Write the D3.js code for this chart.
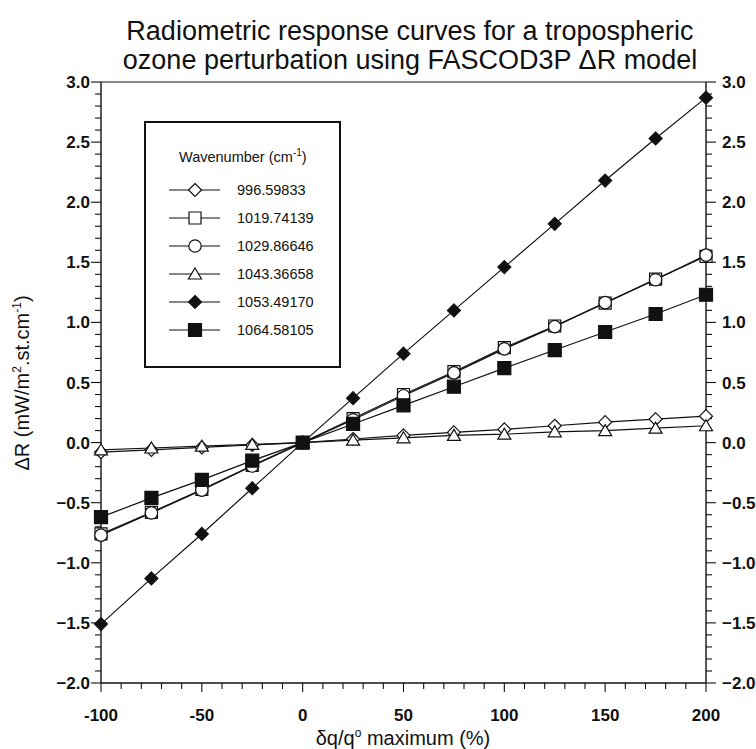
<!DOCTYPE html>
<html>
<head>
<meta charset="utf-8">
<script src="https://cdn.jsdelivr.net/npm/d3@7"></script>
<style>
  body { margin: 0; background: #fff; }
  svg { font-family: "Liberation Sans", Arial, sans-serif; }
</style>
</head>
<body>
<div id="chart"></div>
<script>
// perturbation (% of max) at which each curve was evaluated
const perturbation = [-100, -75, -50, -25, 0, 25, 50, 75, 100, 125, 150, 175, 200];

const wn996 = [-0.08, -0.06, -0.04, -0.02, 0, 0.03, 0.06, 0.085, 0.11, 0.14, 0.17, 0.195, 0.22];
const wn1019 = [-0.76, -0.58, -0.39, -0.19, 0, 0.2, 0.4, 0.59, 0.79, 0.97, 1.16, 1.36, 1.55];
const wn1029 = [-0.77, -0.585, -0.395, -0.195, 0, 0.19, 0.39, 0.58, 0.78, 0.965, 1.165, 1.355, 1.56];
const wn1043 = [-0.06, -0.045, -0.03, -0.015, 0, 0.02, 0.04, 0.06, 0.07, 0.09, 0.1, 0.12, 0.14];
const wn1053 = [-1.51, -1.13, -0.76, -0.38, 0, 0.37, 0.74, 1.1, 1.46, 1.82, 2.18, 2.53, 2.87];
const wn1064 = [-0.62, -0.46, -0.31, -0.15, 0, 0.155, 0.31, 0.465, 0.62, 0.77, 0.92, 1.07, 1.23];

const seriesNames = ["996.59833", "1019.74139", "1029.86646", "1043.36658", "1053.49170", "1064.58105"];
const seriesValues = [wn996, wn1019, wn1029, wn1043, wn1053, wn1064];
const seriesMarker = ["diamond", "square", "circle", "triangle", "diamond-filled", "square-filled"];

const xTicks = [-100, -50, 0, 50, 100, 150, 200];
const yTicks = [-2.0, -1.5, -1.0, -0.5, 0.0, 0.5, 1.0, 1.5, 2.0, 2.5, 3.0];

const width = 756, height = 749;
const margin = { top: 82, right: 50, bottom: 66, left: 101 };

const svg = d3.select("#chart")
  .append("svg")
  .attr("width", width)
  .attr("height", height);

const x = d3.scaleLinear().domain([-100, 200]).range([margin.left, width - margin.right]);
const y = d3.scaleLinear().domain([-2, 3]).range([height - margin.bottom, margin.top]);

// marker shapes
function markerPath(type) {
  if (type.startsWith("diamond")) return "M0,-6.5L6.5,0L0,6.5L-6.5,0Z";
  if (type.startsWith("square")) return type.endsWith("filled") ? "M-6.5,-6.5H6.5V6.5H-6.5Z" : "M-6,-6H6V6H-6Z";
  if (type === "triangle") return "M0,-6L6.5,5H-6.5Z";
  return d3.symbol().type(d3.symbolCircle).size(Math.PI * 6.2 * 6.2)();
}
function drawMarker(g, type) {
  const filled = type.endsWith("filled");
  g.append("path")
    .attr("d", markerPath(type))
    .attr("fill", filled ? "#111" : "#fff")
    .attr("stroke", "#111")
    .attr("stroke-width", 1.2);
}

// axes frame
const minorX = d3.range(-100, 201, 10);
const minorY = d3.range(-20, 31).map(d => d / 10);

const axes = svg.append("g").attr("stroke", "#111").attr("fill", "none");
axes.append("line")
  .attr("x1", x(-100)).attr("x2", x(200)).attr("y1", y(3)).attr("y2", y(3))
  .attr("stroke-width", 1.2);
axes.append("line")
  .attr("x1", x(-100)).attr("x2", x(200)).attr("y1", y(-2)).attr("y2", y(-2))
  .attr("stroke-width", 1.4);
axes.append("line")
  .attr("x1", x(-100)).attr("x2", x(-100)).attr("y1", y(-2)).attr("y2", y(3))
  .attr("stroke-width", 1.4);
axes.append("line")
  .attr("x1", x(200)).attr("x2", x(200)).attr("y1", y(-2)).attr("y2", y(3))
  .attr("stroke-width", 1.4);

const isMajorY = v => Math.abs(v * 2 - Math.round(v * 2)) < 1e-6;
const isMajorX = v => v % 50 === 0;

axes.selectAll(".ty").data(minorY).join("line")
  .attr("x1", x(-100)).attr("x2", d => x(-100) - (isMajorY(d) ? 10 : 6))
  .attr("y1", d => y(d)).attr("y2", d => y(d)).attr("stroke-width", 1.1);
axes.selectAll(".tyr").data(minorY).join("line")
  .attr("x1", x(200)).attr("x2", d => x(200) + (isMajorY(d) ? 10 : 6))
  .attr("y1", d => y(d)).attr("y2", d => y(d)).attr("stroke-width", 1.1);
axes.selectAll(".tx").data(minorX).join("line")
  .attr("x1", d => x(d)).attr("x2", d => x(d))
  .attr("y1", y(-2)).attr("y2", d => y(-2) + (isMajorX(d) ? 9 : 6)).attr("stroke-width", 1.1);

const fmt = d3.format(".1f");
const tickText = svg.append("g")
  .attr("font-size", 17).attr("font-weight", "bold").attr("fill", "#111");
tickText.selectAll(".ly").data(yTicks).join("text")
  .attr("x", x(-100) - 11).attr("y", d => y(d) + 6)
  .attr("text-anchor", "end").text(d => fmt(d));
tickText.selectAll(".lyr").data(yTicks).join("text")
  .attr("x", x(200) + 16).attr("y", d => y(d) + 6)
  .attr("text-anchor", "start").text(d => fmt(d));
tickText.selectAll(".lx").data(xTicks).join("text")
  .attr("x", d => x(d)).attr("y", y(-2) + 38)
  .attr("text-anchor", "middle").text(d => d);

// curves
const line = d3.line().x((d, i) => x(perturbation[i])).y(d => y(d));
svg.append("g").selectAll("path").data(seriesValues).join("path")
  .attr("d", line)
  .attr("fill", "none")
  .attr("stroke", "#111")
  .attr("stroke-width", 1.2);

seriesValues.forEach((vals, s) => {
  const g = svg.append("g");
  vals.forEach((v, i) => {
    const m = g.append("g").attr("transform", `translate(${x(perturbation[i])},${y(v)})`);
    drawMarker(m, seriesMarker[s]);
  });
});

// legend
const legend = svg.append("g");
legend.append("rect")
  .attr("x", 145).attr("y", 122).attr("width", 195).attr("height", 245)
  .attr("fill", "#fff").attr("stroke", "#111").attr("stroke-width", 2);
const lt = legend.append("text").attr("x", 179).attr("y", 162)
  .attr("font-size", 14.5).attr("fill", "#111");
lt.append("tspan").text("Wavenumber (cm");
lt.append("tspan").attr("font-size", 10).attr("dy", -6).text("-1");
lt.append("tspan").attr("dy", 6).text(")");

seriesNames.forEach((name, i) => {
  const row = legend.append("g").attr("transform", `translate(0,${190 + i * 28})`);
  row.append("line").attr("x1", 169).attr("x2", 220)
    .attr("stroke", "#111").attr("stroke-width", 1.2);
  const m = row.append("g").attr("transform", "translate(195,0)");
  drawMarker(m, seriesMarker[i]);
  row.append("text").attr("x", 237).attr("y", 5)
    .attr("font-size", 14.5).attr("fill", "#111").text(name);
});

// titles
const title = svg.append("g").attr("font-size", 27).attr("fill", "#111")
  .attr("text-anchor", "middle");
title.append("text").attr("x", 410).attr("y", 40)
  .text("Radiometric response curves for a tropospheric");
title.append("text").attr("x", 410).attr("y", 69)
  .text("ozone perturbation using FASCOD3P \u0394R model");

const xl = svg.append("text").attr("x", 403).attr("y", 745)
  .attr("text-anchor", "middle").attr("font-size", 20).attr("fill", "#111");
xl.append("tspan").text("\u03b4q/q");
xl.append("tspan").attr("font-size", 12).attr("dy", -8).text("o");
xl.append("tspan").attr("dy", 8).text(" maximum (%)");

const yl = svg.append("text")
  .attr("transform", "translate(29,383) rotate(-90)")
  .attr("text-anchor", "middle").attr("font-size", 20).attr("fill", "#111");
yl.append("tspan").text("\u0394R (mW/m");
yl.append("tspan").attr("font-size", 12).attr("dy", -8).text("2");
yl.append("tspan").attr("dy", 8).text(".st.cm");
yl.append("tspan").attr("font-size", 12).attr("dy", -8).text("-1");
yl.append("tspan").attr("dy", 8).text(")");
</script>
</body>
</html>
